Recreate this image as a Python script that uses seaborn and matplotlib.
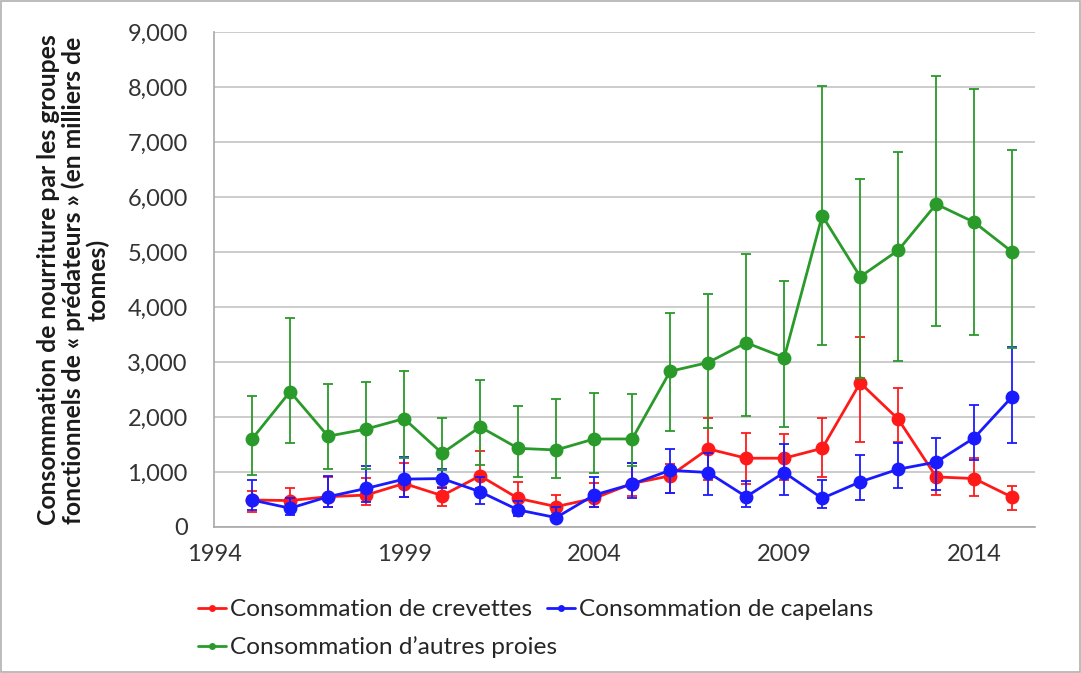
import numpy as np
import pandas as pd
import seaborn as sns
import matplotlib.pyplot as plt
from matplotlib.ticker import FuncFormatter
from matplotlib.patches import Rectangle

years = list(range(1995, 2016))

# crevettes (shrimp)
shrimp = [490, 480, 550, 580, 790, 570, 930, 520, 370, 520, 790, 930,
          1420, 1250, 1250, 1430, 2620, 1960, 910, 880, 540]
shrimp_hi = [660, 700, 910, 890, 1170, 720, 1390, 810, 580, 800, 1160, 1150,
             1980, 1700, 1690, 1980, 3450, 2530, 1100, 1250, 750]
shrimp_lo = [280, 370, 370, 400, 550, 390, 700, 370, 280, 370, 560, 610,
             850, 790, 850, 910, 1550, 1550, 580, 570, 310]

# capelans
capelin = [490, 340, 550, 700, 870, 880, 640, 310, 170, 580, 780, 1030,
           990, 550, 990, 520, 820, 1050, 1180, 1620, 2370]
capelin_hi = [850, 520, 930, 1100, 1270, 1060, 900, 480, 370, 910, 1160, 1410,
              1350, 840, 1510, 860, 1310, 1530, 1610, 2220, 3280]
capelin_lo = [310, 220, 370, 460, 550, 700, 420, 200, 100, 370, 520, 620,
              590, 370, 590, 340, 490, 700, 670, 1220, 1530]

# autres proies (other prey)
other = [1600, 2460, 1650, 1780, 1970, 1340, 1820, 1430, 1400, 1600, 1600, 2830,
         2990, 3350, 3080, 5660, 4550, 5030, 5870, 5540, 5000]
other_hi = [2390, 3800, 2600, 2630, 2830, 1990, 2680, 2200, 2330, 2440, 2410, 3890,
            4240, 4970, 4470, 8020, 6320, 6820, 8200, 7960, 6860]
other_lo = [950, 1520, 1050, 1060, 1250, 1040, 1130, 900, 890, 990, 1100, 1750,
            1800, 2020, 1810, 3310, 2700, 3020, 3650, 3490, 3260]

labels = ["Consommation de crevettes", "Consommation de capelans",
          "Consommation d\u2019autres proies"]
colors = ["#ff1a1a", "#1a1aff", "#2a9a2a"]

sns.set_theme(style="white")
plt.rcParams["font.family"] = ["Lato", "DejaVu Sans"]

fig = plt.figure(figsize=(10.81, 6.73), dpi=100)
ax = fig.add_axes([0.198, 0.217, 0.7595, 0.7355])

series = [(shrimp, shrimp_lo, shrimp_hi), (capelin, capelin_lo, capelin_hi),
          (other, other_lo, other_hi)]
handles = {}
for i in [2, 0, 1]:
    vals, lo, hi = series[i]
    df = pd.DataFrame({"year": years, "value": vals})
    err = [np.array(vals) - np.array(lo), np.array(hi) - np.array(vals)]
    ax.errorbar(years, vals, yerr=err, fmt="none", ecolor=colors[i],
                elinewidth=1.3, capsize=3.5, capthick=1.3, zorder=2 + i)
    sns.lineplot(data=df, x="year", y="value", ax=ax, color=colors[i],
                 marker="o", markersize=10, markeredgewidth=0, linewidth=2,
                 label=labels[i], zorder=3 + i, legend=False)
    handles[i] = ax.lines[-1]

ax.set_xlim(1994, 2015.6)
ax.set_ylim(0, 9000)
ax.set_xticks([1994, 1999, 2004, 2009, 2014])
ax.set_yticks(range(0, 9001, 1000))
ax.yaxis.set_major_formatter(FuncFormatter(lambda v, p: f"{int(v):,}"))
ax.grid(axis="y", color="#c8c8c8", linewidth=1.3)
ax.set_axisbelow(True)
for s in ["top", "right"]:
    ax.spines[s].set_visible(False)
for s in ["left", "bottom"]:
    ax.spines[s].set_color("#a8a8a8")
    ax.spines[s].set_linewidth(1.2)
ax.tick_params(axis="both", labelsize=17, colors="#333333", length=6,
               width=1.2, direction="out", pad=6)
ax.tick_params(axis="y", color="#c8c8c8", length=7, pad=12)
ax.tick_params(axis="x", color="#a8a8a8")
ax.set_xlabel("")
ax.set_ylabel("")

fig.text(0.068, 0.584,
         "Consommation de nourriture par les groupes\n"
         "fonctionnels de \u00ab pr\u00e9dateurs \u00bb (en milliers de\n"
         "tonnes)",
         rotation=90, ha="center", va="center", multialignment="center",
         fontsize=17.8, fontweight="bold", color="#1a1a1a", linespacing=1.05)

order = [handles[0], handles[2], handles[1]]
fig.legend(order, [labels[0], labels[2], labels[1]], ncol=2,
           loc="upper left", bbox_to_anchor=(0.174, 0.124), frameon=False,
           fontsize=17.6, handlelength=1.15, handletextpad=0.15,
           columnspacing=-0.4, labelspacing=0.65, markerscale=0.5,
           borderaxespad=0)

fig.add_artist(Rectangle((0.001, 0.001), 0.998, 0.998, transform=fig.transFigure,
                         fill=False, edgecolor="#b0b0b0", linewidth=1.2))

fig.savefig("out.png", dpi=100)
